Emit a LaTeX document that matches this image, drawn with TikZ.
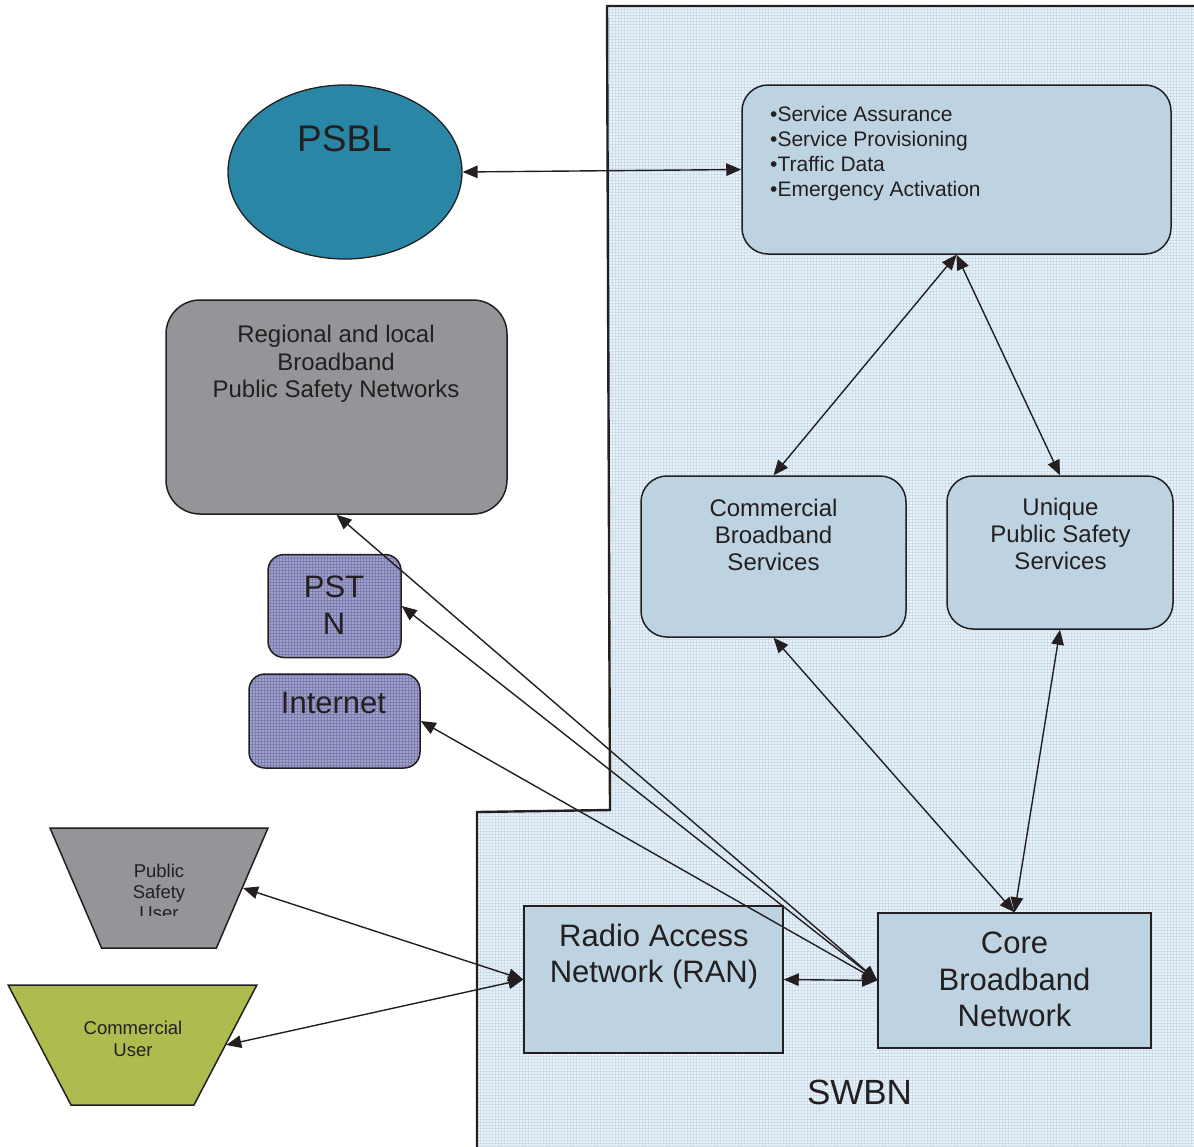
\documentclass[tikz,border=0pt]{standalone}
\usepackage{fontspec}
\setmainfont{Liberation Sans}
\usepackage{xcolor}
\usepackage{tikz}
\usetikzlibrary{shapes.geometric, positioning, patterns}
\usetikzlibrary{arrows.meta}
\tikzset{>={Triangle[width=12.5pt,length=15pt]}}

\definecolor{swbnfill}{HTML}{EBF2F8}
\definecolor{swbngrid}{HTML}{CCDDEC}
\definecolor{boxblue}{HTML}{BED3E2}
\definecolor{boxgray}{HTML}{939598}
\definecolor{psblteal}{HTML}{2987A5}
\definecolor{netpurple}{HTML}{A2A3CB}
\definecolor{netgrid}{HTML}{7C7DB0}
\definecolor{userolive}{HTML}{AEBB4E}
\definecolor{inkgray}{HTML}{231F20}

\begin{document}
\begin{tikzpicture}[x=1pt, y=-1pt, bluebox/.style={rectangle, rounded corners=26pt, draw=inkgray, fill=boxblue, line width=1.5pt, inner sep=0pt}, graybox/.style={rectangle, rounded corners=34pt, draw=inkgray, fill=boxgray, line width=1.5pt, inner sep=0pt}, netbox/.style={rectangle, rounded corners=16pt, draw=inkgray, preaction={fill=netpurple}, pattern=grid, pattern color=netgrid, line width=1.5pt, inner sep=0pt}, plainbox/.style={rectangle, draw=inkgray, fill=boxblue, line width=1.5pt, inner sep=0pt}, userbox/.style={trapezium, trapezium stretches=true, shape border rotate=180, draw=inkgray, line width=1.5pt, inner sep=4pt}, txt/.style={inner sep=0pt, text=inkgray, align=center, anchor=north}, link/.style={<->, line width=1.4pt, draw=inkgray}]

    \useasboundingbox (0,0) rectangle (1194,1146);

    %SWBN area
    \draw[line width=2.4pt, draw=inkgray, preaction={fill=swbnfill}, pattern=grid, pattern color=swbngrid]
        (607,6) -- (1197,6) -- (1197,1149) -- (477,1149) -- (477,812) -- (610,810) -- cycle;

    %Nodes
    \node[ellipse, draw=inkgray, fill=psblteal, line width=1.3pt, minimum width=234pt, minimum height=174pt, inner sep=0pt](psbl) at (345,172){};
    \node[bluebox, minimum width=429pt, minimum height=169pt](ops) at (956.5,169.5){};
    \node[graybox, minimum width=341pt, minimum height=214pt](regional) at (336.5,407){};
    \node[netbox, minimum width=133pt, minimum height=103pt](pstn)[below=39pt of regional, xshift=-2pt]{};
    \node[netbox, minimum width=171pt, minimum height=94pt](internet)[below=15pt of pstn]{};
    \node[bluebox, minimum width=265pt, minimum height=161pt](cbs) at (773.5,556.5){};
    \node[bluebox, minimum width=226pt, minimum height=153pt](upss) at (1060,552.5){};
    \node[plainbox, minimum width=259pt, minimum height=147pt](ran) at (653.5,979.5){};
    \node[plainbox, minimum width=273pt, minimum height=135pt](core) at (1014.5,980.5){};
    \node[userbox, fill=boxgray, trapezium angle=65.8, minimum width=218pt, minimum height=120pt](psu) at (159,888){};
    \node[userbox, fill=userolive, trapezium angle=62.9, minimum width=249pt, minimum height=120pt](cu) at (132.5,1045){};

    %Texts
    \node[txt, font=\fontsize{37}{44}\selectfont](psbl_text) at (344.5,125){PSBL};
    \node[txt, anchor=north west, align=left, font=\fontsize{21}{24.7}\selectfont](ops_text) at (770,106.5){•Service Assurance\\•Service Provisioning\\•Traffic Data\\•Emergency Activation};
    \node[txt, font=\fontsize{24}{27.5}\selectfont](regional_text) at (336,325){Regional and local\\Broadband\\Public Safety Networks};
    \node[txt, font=\fontsize{31}{37}\selectfont](pstn_text) at (334,575.5){PST\\N};
    \node[txt, font=\fontsize{31}{37}\selectfont](internet_text) at (333.5,692){Internet};
    \node[txt, font=\fontsize{24}{27}\selectfont](cbs_text) at (773.5,499){Commercial\\Broadband\\Services};
    \node[txt, font=\fontsize{24}{27}\selectfont](upss_text) at (1060.5,498){Unique\\Public Safety\\Services};
    \node[txt, font=\fontsize{31}{36}\selectfont](ran_text) at (654,924){Radio Access\\Network (RAN)};
    \node[txt, font=\fontsize{31}{36.5}\selectfont](core_text) at (1014.5,932){Core\\Broadband\\Network};
    \node[txt, font=\fontsize{35}{40}\selectfont](swbn_text) at (859.5,1080){SWBN};
    \begin{scope}
        \clip (50,828) rectangle (268,915);
        \node[txt, font=\fontsize{18.5}{21}\selectfont](psu_text) at (159,864){Public\\Safety\\User};
    \end{scope}
    \node[txt, font=\fontsize{18.5}{22}\selectfont](cu_text) at (133,1021){Commercial\\User};

    %Lines
    \draw[link] (psbl.east) -- (ops.west);
    \draw[link] (ops.south) -- (cbs.north);
    \draw[link] (ops.south) -- (upss.north);
    \draw[link] (cbs.south) -- (core.north);
    \draw[link] (upss.south) -- (core.north);
    \draw[link] (ran.east) -- (core.west);
    \draw[link] (core.west) -- (regional.south);
    \draw[link] (core.west) -- (pstn.east);
    \draw[link] (core.west) -- (internet.east);
    \draw[link] (ran.west) -- (psu.east);
    \draw[link] (ran.west) -- (cu.east);

\end{tikzpicture}
\end{document}
